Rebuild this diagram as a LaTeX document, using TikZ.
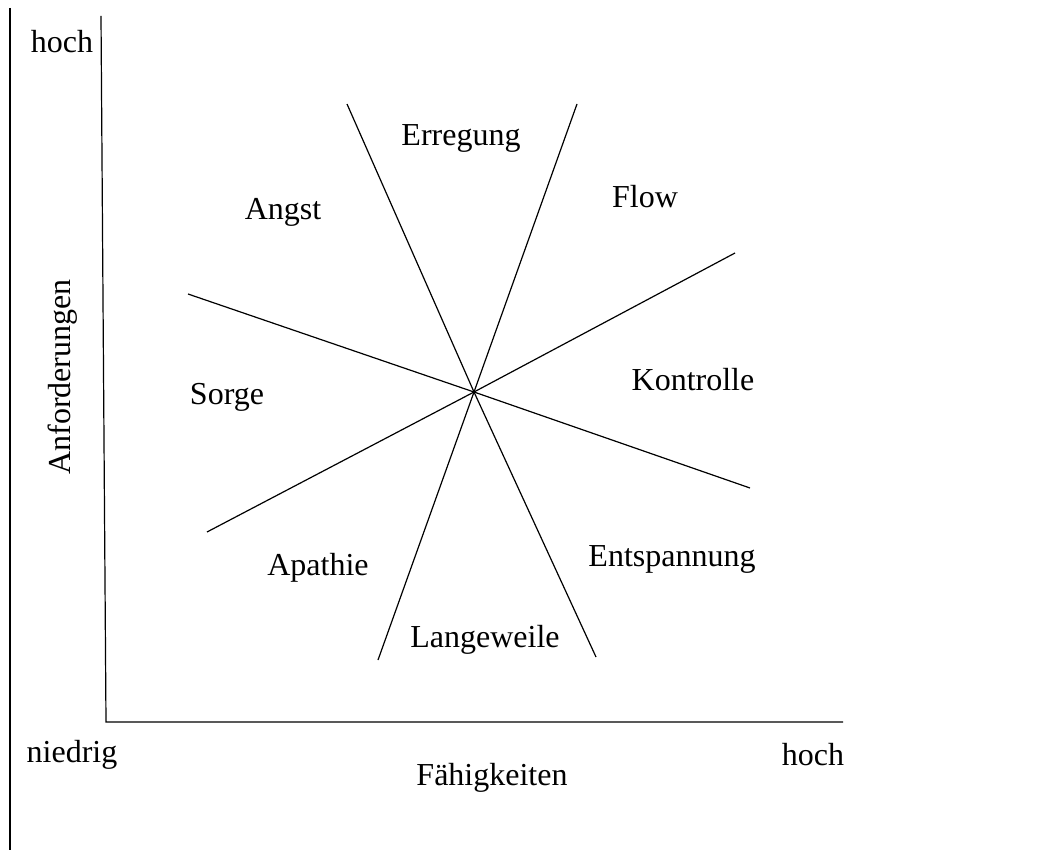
\documentclass[tikz,border=0pt]{standalone}
\usepackage{fontspec}
\setmainfont{Liberation Serif}
\begin{document}
\begin{tikzpicture}[x=1pt,y=-1pt,
  lbl/.style={inner sep=0pt,font=\fontsize{32}{38}\selectfont},
  ln/.style={line width=1.2pt}]
\useasboundingbox (0,0) rectangle (1043,850);
% left frame line
\coordinate (fa) at (10,8);
\coordinate (fb) at (10,850);
\draw[ln] (fa) -- (fb);
% axes
\coordinate (ytop) at (101,16);
\coordinate (orig) at (106,722);
\coordinate (xend) at (843,722);
\draw[ln] (ytop) -- (orig) -- (xend);
% rays through centre
\coordinate (c) at (474,392);
\coordinate (a1) at (347,104);
\coordinate (a2) at (596,657);
\coordinate (b1) at (577,104);
\coordinate (b2) at (378,660);
\coordinate (d1) at (188,294);
\coordinate (d2) at (750,488);
\coordinate (e1) at (735,253);
\coordinate (e2) at (207,532);
\draw[ln] (a1) -- (c) -- (a2);
\draw[ln] (b1) -- (c) -- (b2);
\draw[ln] (d1) -- (c) -- (d2);
\draw[ln] (e1) -- (c) -- (e2);
% labels
\node[lbl] (hochy) at (62,42) {hoch};
\node[lbl] (niedrig) at (72,755) {niedrig};
\node[lbl] (hochx) at (813,755) {hoch};
\node[lbl] (faeh) at (492,778) {Fähigkeiten};
\node[lbl,rotate=90] (anf) at (63,377) {Anforderungen};
\node[lbl] (erreg) at (461,138) {Erregung};
\node[lbl] (angst) at (283,212) {Angst};
\node[lbl] (flow) at (645,197) {Flow};
\node[lbl] (sorge) at (227,397) {Sorge};
\node[lbl] (kontr) at (693,380) {Kontrolle};
\node[lbl] (apath) at (318,568) {Apathie};
\node[lbl] (entsp) at (672,559) {Entspannung};
\node[lbl] (lange) at (485,640) {Langeweile};
\end{tikzpicture}
\end{document}
